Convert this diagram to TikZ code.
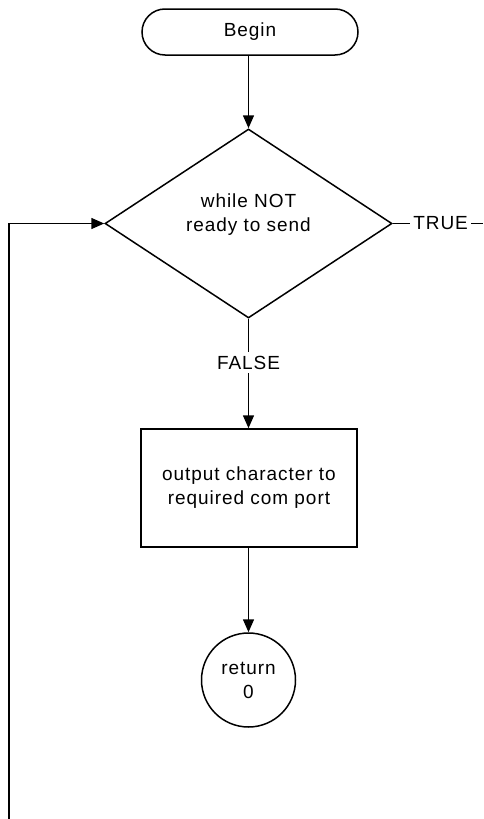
\documentclass[tikz,border=0pt]{standalone}
\usepackage{fontspec}
\setmainfont{Liberation Sans}[LetterSpace=5]
\usetikzlibrary{shapes.geometric,arrows.meta}
\begin{document}
\begin{tikzpicture}[x=1pt,y=-1pt,line width=1.5pt,
  every node/.style={font=\fontsize{19}{24}\selectfont, align=center},
  ar/.style={-{Triangle[length=13pt,width=11pt]}},
  term/.style={draw, rounded corners=23pt, minimum width=216pt, minimum height=46pt, inner sep=0pt},
  decis/.style={draw, diamond, minimum width=287pt, minimum height=189pt, inner sep=0pt},
  proc/.style={draw, minimum width=216pt, minimum height=118pt, inner sep=0pt},
  endc/.style={draw, circle, minimum size=94pt, inner sep=0pt},
  lbl/.style={fill=white, inner xsep=3pt, inner ysep=4pt}
]
\useasboundingbox (0,0) rectangle (483,819);
\node[term] (begin) at (250,32) {Begin};
\node[decis] (dec) at (248.5,223.5) {};
\node (dectext) at (248.5,215) {while NOT\\ready to send};
\node[proc] (box) at (249,488) {output character to\\required com port};
\node[endc] (ret) at (248.5,680) {return\\0};
\coordinate (trueend) at (483,223.5);
\coordinate (loopstart) at (9,819);

\draw[ar] (begin.south -| dec.north) -- (dec.north);
\draw (dec.east) -- node[lbl, pos=0.53] {TRUE} (trueend);
\draw[ar] (dec.south) -- node[lbl, pos=0.4] {FALSE} (box.north -| dec.south);
\draw[ar] (box.south -| ret.north) -- (ret.north);
\draw[ar] (loopstart) |- (dec.west);
\end{tikzpicture}
\end{document}
